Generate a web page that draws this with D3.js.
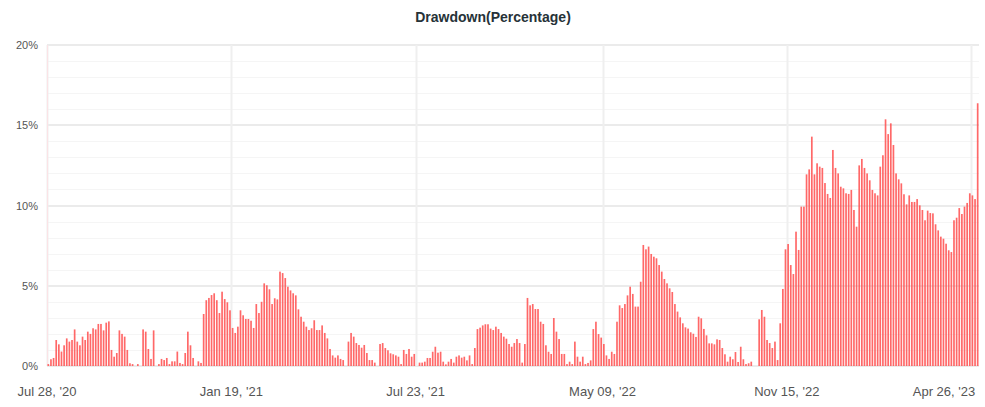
<!DOCTYPE html>
<html>
<head>
<meta charset="utf-8">
<script src="https://cdn.jsdelivr.net/npm/d3@7"></script>
<style>
  html, body { margin: 0; padding: 0; background: #fff; }
  svg { display: block; font-family: "Liberation Sans", Arial, Helvetica, sans-serif; }
</style>
</head>
<body>
<svg id="chart" width="985" height="407"></svg>
<script>
// Drawdown values (%) per category, left to right
const drawdown = [
 0.12,0.42,0.5,1.62,1.35,0.9,1.29,1.72,1.52,1.62,
 2.28,1.52,1.29,1.83,1.62,2.14,2.0,2.35,2.28,2.62,
 2.62,2.22,2.7,2.78,1.0,0.58,0.81,2.22,2.0,1.83,
 1.0,0.17,0.12,0,0.12,0,2.28,2.14,1.06,0.44,
 2.22,0,0.12,0.44,0.37,0.5,0.12,0.29,0.29,0.9,
 0.19,0.12,0.81,2.14,1.29,0.5,0,0.29,0.19,3.24,
 4.1,4.24,4.42,4.53,4.1,3.3,4.63,4.17,3.97,3.47,
 2.37,2.06,2.45,3.47,3.16,2.93,2.93,2.82,2.37,3.86,
 3.3,4.0,5.15,5.03,4.78,3.86,4.22,4.15,5.88,5.79,
 5.48,4.94,4.71,4.53,4.4,3.53,3.07,2.76,2.45,2.24,
 2.35,2.85,2.24,2.24,2.53,2.06,1.72,1.06,0.66,0.52,
 0.66,0.44,0.37,0,1.52,2.06,1.83,1.43,1.31,1.14,
 1.31,
 0.81,0.37,0.37,0.21,0,1.37,1.43,1.12,0.98,0.79,
 0.73,0.66,0.58,0.12,1.0,0.75,1.06,0.58,0.75,0,
 0.21,0.21,0.27,0.5,0.5,0.89,1.2,0.83,0.89,0.27,
 0.1,0.27,0.44,0.21,0.58,0.66,0.52,0.58,0.35,0.66,
 0.12,1.12,2.3,2.39,2.53,2.6,2.6,2.33,2.24,2.45,
 2.3,2.06,1.83,1.7,1.37,1.2,1.43,1.68,1.43,0.21,
 1.37,4.24,3.78,3.86,3.55,3.55,2.76,2.62,1.29,0.89,
 0.75,2.99,2.14,1.68,0.75,0.75,0.12,0.27,0.12,1.52,
 0.58,0.27,0.58,0.12,0.19,0.35,2.3,2.76,1.99,1.77,
 1.37,0.66,0.44,0.89,0.75,2.76,3.78,3.61,3.86,4.4,
 4.94,4.49,3.7,3.7,5.25,7.54,7.27,7.44,6.98,6.81,
 6.71,6.29,5.88,5.42,5.15,4.84,4.61,3.86,3.39,3.03,
 2.66,2.41,2.33,2.1,2.01,1.81,3.07,2.97,2.31,1.91,
 1.41,1.41,1.35,1.66,1.62,1.12,0.73,0.27,0.58,0.42,
 0.87,0.25,1.2,0.42,0.12,0.17,0.27,0,0,2.91,
 3.49,3.07,1.62,1.43,1.12,1.52,0.37,2.66,4.8,7.27,
 7.6,6.29,5.73,8.37,7.23,9.93,9.93,11.94,12.25,14.29,
 11.94,12.63,12.42,12.34,11.4,10.72,10.47,13.46,12.34,12.0,
 11.17,11.07,10.76,10.72,10.97,9.72,8.68,12.5,12.9,12.34,
 12.0,11.57,10.97,10.76,10.63,12.42,13.13,15.37,14.45,15.12,
 13.77,12.0,11.63,11.38,10.7,10.07,10.63,10.22,10.22,10.4,
 10.01,9.72,9.08,9.68,9.53,9.51,8.83,8.45,8.06,7.93,
 7.62,7.21,7.1,9.08,9.24,9.84,9.47,9.93,10.16,10.76,
 10.63,10.4,16.37
];

// x-axis labels and the category index they sit on
const tickLabels = ["Jul 28, '20", "Jan 19, '21", "Jul 23, '21", "May 09, '22", "Nov 15, '22", "Apr 26, '23"];
const tickIndex = [0, 70, 140, 211, 281, 351];

// y-axis
const yMajorTicks = [0, 5, 10, 15, 20];
const yMinorTicks = [1,2,3,4,6,7,8,9,11,12,13,14,16,17,18,19];

const chartTitle = "Drawdown(Percentage)";

(function () {
const svg = d3.select("#chart");
const W = 985, H = 407;
const pL = 47, pR = 979, pT = 45, pB = 366;

const idx = d3.range(drawdown.length);
const x = d3.scaleBand().domain(idx).range([pL, pR]).paddingInner(0.36).paddingOuter(0.18);
const slot = d3.scaleLinear().domain([0, drawdown.length]).range([pL, pR]);
const y = d3.scaleLinear().domain([0, 20]).range([pB, pT]);

// title
svg.append("text")
  .attr("x", 493).attr("y", 22)
  .attr("text-anchor", "middle")
  .attr("font-size", 14).attr("font-weight", "bold")
  .attr("fill", "#263238")
  .text(chartTitle);

// minor horizontal grid
svg.append("g").selectAll("line").data(yMinorTicks).join("line")
  .attr("x1", pL).attr("x2", pR)
  .attr("y1", d => Math.round(y(d)) + 0.5).attr("y2", d => Math.round(y(d)) + 0.5)
  .attr("stroke", "#f5f5f5").attr("stroke-width", 1);

// major horizontal grid
svg.append("g").selectAll("line").data(yMajorTicks).join("line")
  .attr("x1", pL).attr("x2", pR)
  .attr("y1", d => Math.round(y(d))).attr("y2", d => Math.round(y(d)))
  .attr("stroke", "#ebebeb").attr("stroke-width", 2);

// vertical grid
svg.append("g").selectAll("line").data(tickIndex).join("line")
  .attr("x1", d => Math.round(slot(d)) + 0.5).attr("x2", d => Math.round(slot(d)) + 0.5)
  .attr("y1", pT).attr("y2", pB)
  .attr("stroke", "#efefef").attr("stroke-width", 2);

// faint pink left edge line
svg.append("line")
  .attr("x1", pL + 0.5).attr("x2", pL + 0.5)
  .attr("y1", pT).attr("y2", pB)
  .attr("stroke", "#fbe3e6").attr("stroke-width", 1);

// bars
svg.append("g").selectAll("rect").data(drawdown).join("rect")
  .attr("x", (d, i) => x(i))
  .attr("width", x.bandwidth())
  .attr("y", d => y(d))
  .attr("height", d => pB - y(d))
  .attr("fill", "#ff4d4d")
  .attr("fill-opacity", 0.85);

// y labels
svg.append("g").selectAll("text").data(yMajorTicks).join("text")
  .attr("x", 38).attr("y", d => y(d) + 4)
  .attr("text-anchor", "end")
  .attr("font-size", 11).attr("fill", "#555")
  .text(d => d + "%");

// x labels
svg.append("g").selectAll("text").data(tickIndex).join("text")
  .attr("x", (d, i) => {
    const px = slot(d);
    return i === tickIndex.length - 1 ? Math.min(px, W - 8 - 33) : px;
  })
  .attr("y", 396)
  .attr("text-anchor", "middle")
  .attr("font-size", 13).attr("fill", "#555")
  .text((d, i) => tickLabels[i]);
})();
</script>
</body>
</html>
